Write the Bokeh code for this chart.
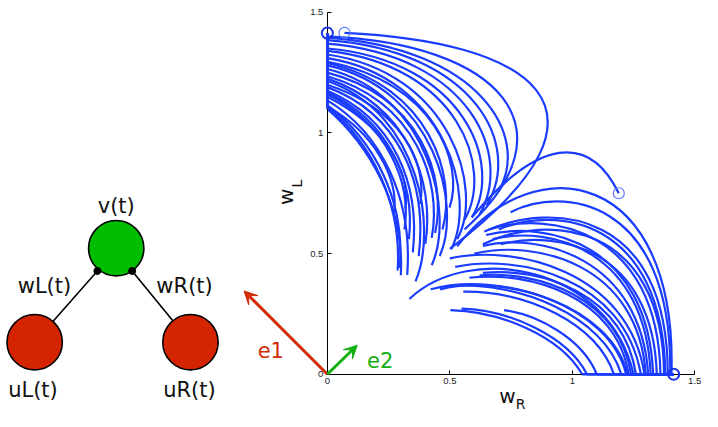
from math import pi
from bokeh.plotting import figure
from bokeh.models import Range1d, FixedTicker, Arrow, VeeHead
from bokeh.core.properties import value
from bokeh.embed import file_html
from bokeh.resources import INLINE

# ---------------- data ----------------
tick_vals = [0, 0.5, 1, 1.5]
tick_labels = ["0", "0.5", "1", "1.5"]
fixed_point = 1.414

# trajectories converging to (0, sqrt2): cubic bezier (start, control1, control2, end)
up_x0 = [0.300, 0.295, 0.273, 0.326, 0.319, 0.315, 0.349, 0.373, 0.379, 0.360, 0.426, 0.440, 0.426, 0.459,
         0.499, 0.506, 0.470, 0.560, 0.590, 0.620, 0.560, 0.500, 0.287, 0.333, 0.400, 0.650, 0.530, 0.700]
up_y0 = [0.410, 0.440, 0.671, 0.412, 0.685, 0.600, 0.505, 0.490, 0.705, 0.385, 0.565, 0.585, 0.452, 0.490,
         0.691, 0.518, 0.600, 0.640, 0.650, 0.660, 0.600, 0.520, 0.430, 0.560, 0.540, 0.700, 0.560, 0.760]
up_cx0 = [0.315, 0.320, 0.290, 0.350, 0.340, 0.345, 0.380, 0.410, 0.410, 0.450, 0.470, 0.490, 0.520, 0.550,
          0.560, 0.610, 0.530, 0.680, 0.720, 0.760, 1.020, 1.280, 0.305, 0.360, 0.440, 0.800, 0.640, 0.830]
up_cy0 = [0.700, 0.720, 0.820, 0.730, 0.850, 0.800, 0.790, 0.800, 0.880, 0.600, 0.800, 0.820, 0.660, 0.700,
          0.870, 0.730, 0.820, 0.850, 0.870, 0.900, 1.020, 1.120, 0.710, 0.800, 0.800, 0.950, 0.760, 0.990]
up_cx1 = [0.170, 0.190, 0.190, 0.220, 0.230, 0.240, 0.270, 0.290, 0.300, 0.380, 0.360, 0.380, 0.420, 0.440,
          0.440, 0.490, 0.420, 0.540, 0.560, 0.590, 0.700, 0.800, 0.180, 0.250, 0.330, 0.600, 0.510, 0.620]
up_cy1 = [0.950, 0.970, 1.000, 1.000, 1.030, 1.040, 1.060, 1.080, 1.100, 1.080, 1.130, 1.150, 1.160, 1.180,
          1.210, 1.230, 1.190, 1.280, 1.300, 1.320, 1.370, 1.380, 0.960, 1.050, 1.110, 1.340, 1.250, 1.350]
up_x1 = [0, 0, 0, 0, 0, 0, 0, 0, 0, 0, 0, 0, 0, 0, 0, 0, 0, 0, 0, 0, 0, 0.070, 0, 0, 0, 0, 0, 0]
up_y1 = [1.100, 1.115, 1.110, 1.135, 1.150, 1.160, 1.175, 1.190, 1.200, 1.215, 1.235, 1.250, 1.265, 1.280,
         1.295, 1.310, 1.290, 1.340, 1.350, 1.370, 1.400, 1.415, 1.108, 1.168, 1.225, 1.385, 1.325, 1.395]

# trajectories converging to (sqrt2, 0)
lo_x0 = [0.502, 0.548, 0.721, 0.555, 0.489, 0.422, 0.335, 0.522, 0.622, 0.635, 0.580, 0.635, 0.648, 0.675,
         0.708, 0.590, 0.530, 0.748, 0.641, 0.635, 0.700, 0.500, 0.660, 0.600, 0.460]
lo_y0 = [0.266, 0.272, 0.266, 0.342, 0.365, 0.352, 0.312, 0.445, 0.410, 0.420, 0.400, 0.532, 0.577, 0.560,
         0.539, 0.650, 0.530, 0.671, 0.592, 0.539, 0.600, 0.480, 0.600, 0.500, 0.352]
lo_cx0 = [0.700, 0.740, 0.860, 0.820, 0.780, 0.700, 0.580, 0.780, 0.860, 0.880, 0.830, 0.870, 0.900, 0.920,
          0.940, 0.860, 0.850, 0.950, 0.920, 0.900, 0.930, 0.760, 0.910, 0.850, 0.730]
lo_cy0 = [0.262, 0.266, 0.245, 0.345, 0.390, 0.430, 0.550, 0.500, 0.430, 0.445, 0.430, 0.590, 0.640, 0.620,
          0.600, 0.980, 0.950, 0.780, 0.720, 0.670, 0.700, 0.540, 0.680, 0.560, 0.420]
lo_cx1 = [0.950, 0.980, 1.040, 1.100, 1.130, 1.150, 1.150, 1.210, 1.190, 1.210, 1.180, 1.280, 1.310, 1.300,
          1.330, 1.070, 1.430, 1.410, 1.390, 1.370, 1.370, 1.230, 1.350, 1.270, 1.160]
lo_cy1 = [0.160, 0.160, 0.150, 0.210, 0.240, 0.290, 0.450, 0.400, 0.320, 0.330, 0.320, 0.480, 0.540, 0.510,
          0.520, 1.000, 0.850, 0.740, 0.680, 0.630, 0.650, 0.430, 0.600, 0.460, 0.280]
lo_x1 = [1.040, 1.060, 1.100, 1.170, 1.200, 1.220, 1.250, 1.280, 1.240, 1.260, 1.230, 1.310, 1.330, 1.320,
         1.345, 1.190, 1.405, 1.400, 1.390, 1.375, 1.380, 1.295, 1.360, 1.300, 1.225]
lo_y1 = [0, 0, 0, 0, 0, 0, 0, 0, 0, 0, 0, 0, 0, 0, 0, 0.750, 0, 0, 0, 0, 0, 0, 0, 0, 0]

# end markers
end_x_strong = [0, 1.414]
end_y_strong = [1.414, 0]
end_x_light = [0.070, 1.190]
end_y_light = [1.415, 0.750]

# eigenvector arrows
vec_names = ["e1", "e2"]
vec_dx = [-0.340, 0.122]
vec_dy = [0.345, 0.120]

# network diagram (same drawing units)
node_x = [-0.862, -1.195, -0.559]
node_y = [0.5225, 0.133, 0.133]
node_colors = ["#00bd00", "#d42400", "#d42400"]
node_r = 0.113
syn_x = [-0.939, -0.797]
syn_y = [0.428, 0.428]
node_labels = ["v(t)", "wL(t)", "wR(t)", "uL(t)", "uR(t)"]

# ---------------- figure ----------------
W, H = 702, 411
SX, SY = 702 / 718, 411 / 427          # fit the whole 718x427 composition
OX, OY = 334.3 * SX, 388.3 * SY        # pixel position of the data origin
KX, KY = 250.5 * SX, 250.7 * SY        # pixels per data unit
p = figure(width=W, height=H,
           x_range=Range1d(-OX / KX, (W - OX) / KX),
           y_range=Range1d(-(H - OY) / KY, OY / KY),
           toolbar_location=None, output_backend="svg", min_border=0)
p.grid.visible = False
p.outline_line_color = None
p.background_fill_color = "white"

FONT = value("DejaVu Sans")
for ax in (p.xaxis, p.yaxis):
    ax.fixed_location = 0
    ax.bounds = (0, 1.5)
    ax.ticker = FixedTicker(ticks=tick_vals)
    ax.major_label_overrides = {v: l for v, l in zip(tick_vals, tick_labels)}
    ax.minor_tick_line_color = None
    ax.major_tick_in = 4
    ax.major_tick_out = 0
    ax.major_label_standoff = 4
    ax.major_label_text_font_size = "9.5px"
    ax.major_label_text_font = "Liberation Sans"
    ax.major_label_text_color = "#222222"
    ax.axis_line_color = "black"
    ax.major_tick_line_color = "black"

BLUE = "#1a3cff"
p.bezier(x0=up_x0, y0=up_y0, cx0=up_cx0, cy0=up_cy0, cx1=up_cx1, cy1=up_cy1, x1=up_x1, y1=up_y1,
         line_color=BLUE, line_width=2.2)
p.bezier(x0=lo_x0, y0=lo_y0, cx0=lo_cx0, cy0=lo_cy0, cx1=lo_cx1, cy1=lo_cy1, x1=lo_x1, y1=lo_y1,
         line_color=BLUE, line_width=2.2)

# sliding along the axes to the fixed points (drawn above the axis lines)
uy = [y for x, y in zip(up_x1, up_y1) if x == 0]
lx = [x for x, y in zip(lo_x1, lo_y1) if y == 0]
p.segment(x0=[0] * len(uy), y0=uy, x1=[0] * len(uy), y1=[fixed_point] * len(uy),
          line_color=BLUE, line_width=2.5, level="overlay")
p.segment(x0=lx, y0=[0] * len(lx), x1=[fixed_point] * len(lx), y1=[0] * len(lx),
          line_color=BLUE, line_width=2.5, level="overlay")

p.scatter(end_x_strong, end_y_strong, marker="circle", size=11, fill_color=None, line_color="#1a34e8",
          line_width=2, level="overlay")
p.scatter(end_x_light, end_y_light, marker="circle", size=11, fill_color=None, line_color="#5a78ff",
          line_width=1.2, level="overlay")

# arrows
arrow_colors = ["#d42a08", "#12b012"]
for dx, dy, c in zip(vec_dx, vec_dy, arrow_colors):
    p.add_layout(Arrow(x_start=0, y_start=0, x_end=dx, y_end=dy, line_color=c, line_width=3,
                       end=VeeHead(size=13, fill_color=c, line_color=c)))
p.text(x=[-0.231, 0.216], y=[0.100, 0.060], text=vec_names, text_color=arrow_colors,
       text_font=FONT, text_font_size="21px", text_align="center", text_baseline="middle")

# axis labels
p.text(x=[0.735], y=[-0.091], text=["w"], text_font=FONT, text_font_size="20px",
       text_align="center", text_baseline="middle", text_color="#111111")
p.text(x=[0.789], y=[-0.124], text=["R"], text_font=FONT, text_font_size="14px",
       text_align="center", text_baseline="middle", text_color="#111111")
p.text(x=[-0.169], y=[0.735], text=["w"], angle=pi / 2, text_font=FONT, text_font_size="20px",
       text_align="center", text_baseline="middle", text_color="#111111")
p.text(x=[-0.123], y=[0.790], text=["L"], angle=pi / 2, text_font=FONT, text_font_size="14px",
       text_align="center", text_baseline="middle", text_color="#111111")

# network diagram
p.segment(x0=[node_x[1], node_x[2]], y0=[node_y[1], node_y[2]], x1=syn_x, y1=syn_y,
          line_color="black", line_width=1.6)
p.circle(x=node_x, y=node_y, radius=node_r, fill_color=node_colors, line_color="black", line_width=1.6)
p.scatter(syn_x, syn_y, marker="circle", size=7, fill_color="black", line_color="black")
p.text(x=[-0.862, -1.155, -0.583, -1.202, -0.563], y=[0.698, 0.365, 0.365, -0.067, -0.067],
       text=node_labels, text_font=FONT, text_font_size="21px",
       text_align="center", text_baseline="middle", text_color="#111111")

open("out.html", "w").write(file_html(p, INLINE))
